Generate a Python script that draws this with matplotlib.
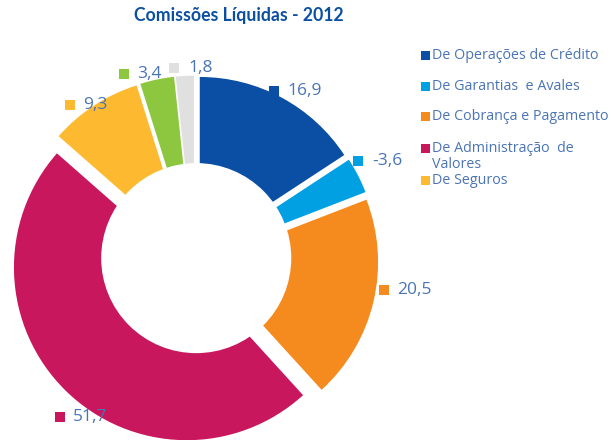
import matplotlib
matplotlib.use("Agg")
import matplotlib.pyplot as plt
from matplotlib.patches import Circle

# ---- data ----
categories = ["De Operações de Crédito", "De Garantias  e Avales", "De Cobrança e Pagamento",
              "De Administração  de\nValores", "De Seguros", "Outras 1", "Outras 2"]
values = [16.9, 3.6, 20.5, 51.7, 9.3, 3.4, 1.8]
value_labels = ["16,9", "-3,6", "20,5", "51,7", "9,3", "3,4", "1,8"]
legend_count = 5
title = "Comissões Líquidas - 2012"

# ---- style / layout ----
colors = ["#0a4fa3", "#00a0e3", "#f58a1f", "#c8175d", "#fdb92f", "#8dc63f", "#e0e0e0"]
label_pos = [(0.460, 0.975), (0.949, 0.572), (1.097, -0.177), (-0.781, -0.911),
             (-0.720, 0.894), (-0.408, 1.073), (-0.116, 1.108)]
text_color = "#4a74b4"
W, H = 611, 440
scale = 172.8
cx, cy = 194.5, 259.5

fig = plt.figure(figsize=(W / 100, H / 100), dpi=100)
ax = fig.add_axes([0, 0, 1, 1])
ax.set_aspect("equal")
ax.axis("off")

ax.pie(values, colors=colors, startangle=90, counterclock=False,
       explode=[0.064] * len(values), radius=1.0,
       wedgeprops=dict(linewidth=0))
ax.add_patch(Circle((0.01, 0.008), 0.55, facecolor="white", edgecolor="none", zorder=5))
ax.set_xlim(-cx / scale, (W - cx) / scale)
ax.set_ylim(-(H - cy) / scale, cy / scale)

fam = ["Open Sans", "DejaVu Sans"]
for (x, y), lab, c in zip(label_pos, value_labels, colors):
    ax.scatter([x], [y], marker="s", s=42, color=c, linewidths=0, zorder=6)
    ax.text(x + 0.078, y, lab, color=text_color, fontsize=12.5, family=fam,
            va="center", ha="left", zorder=6)

# legend
leg_y = [55.7, 86.7, 116.7, 148.3, 180.5]
line_gap = 16.5
for i in range(legend_count):
    py = leg_y[i]
    fig.patches.append(plt.Rectangle((421 / W, 1 - (py + 4.5) / H), 9 / W, 9 / H,
                                     transform=fig.transFigure, facecolor=colors[i],
                                     edgecolor="none"))
    for k, line in enumerate(categories[i].split("\n")):
        fig.text(432 / W, 1 - (py + k * line_gap) / H, line, color=text_color,
                 fontsize=10.3, family=fam, va="center", ha="left")

fig.text(239 / W, 1 - 16 / H, title, color="#0b4fa3", fontsize=12.7, fontweight="bold",
         family=["Lato", "DejaVu Sans"], ha="center", va="center")

fig.savefig("out.png", dpi=100)
